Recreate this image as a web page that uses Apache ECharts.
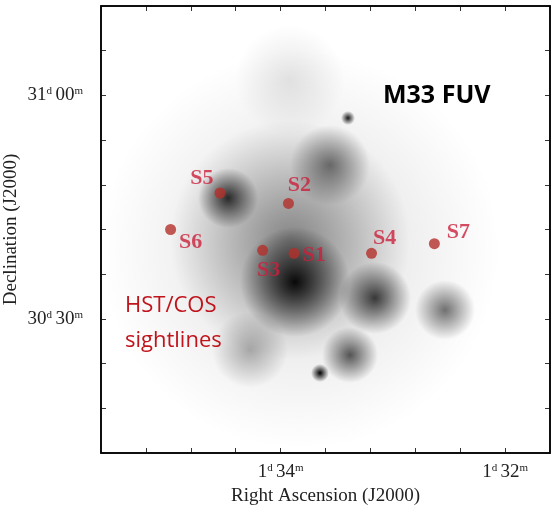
<!DOCTYPE html>
<html>
<head>
<meta charset="utf-8">
<script src="https://cdn.jsdelivr.net/npm/echarts@6/dist/echarts.min.js"></script>
<style>
  html, body { margin: 0; padding: 0; background: #fff; }
  #chart { width: 560px; height: 512px; }
</style>
</head>
<body>
<div id="chart"></div>
<script>
  // sightline names and positions: RA in minutes past 1h, Dec in arcmin past 30d
  const names = ['S1', 'S2', 'S3', 'S4', 'S5', 'S6', 'S7'];
  const raMin = [33.88, 33.93, 34.16, 33.19, 34.54, 34.98, 32.63];
  const decArcmin = [38.8, 45.5, 39.2, 38.8, 46.9, 42.0, 40.1];

  const raTicks = [32, 34];
  const decTicks = [30, 60];

  // label offsets from dot centre (style only)
  const labelOffset = {
    S1: [20, 2], S2: [11, -18], S3: [6, 20], S4: [13, -15],
    S5: [-18, -15], S6: [20, 13], S7: [24, -11]
  };

  const chart = echarts.init(document.getElementById('chart'));
  const serif = '"Liberation Serif", "DejaVu Serif", serif';

  const near = (v, list) => list.some(t => Math.abs(v - t) < 1e-6);
  const raLabel = v => {
    if (!near(v, raTicks)) return '';
    return '{n|1}{s|d} {n|' + Math.round(v) + '}{s|m}';
  };
  const decLabel = v => {
    if (!near(v, decTicks)) return '';
    const d = 30 + Math.floor(Math.round(v) / 60);
    const m = Math.round(v) % 60;
    return '{n|' + d + '}{s|d} {n|' + String(m).padStart(2, '0') + '}{s|m}';
  };
  const rich = {
    n: { fontFamily: serif, fontSize: 19, color: '#222' },
    s: { fontFamily: serif, fontSize: 11, color: '#222', verticalAlign: 'top', padding: [0, 0, 8, 0] }
  };

  // soft blobs imitating the FUV image (decoration only)
  const blob = (cx, cy, rx, ry, a) => ({
    type: 'ellipse',
    silent: true,
    z: 0,
    shape: { cx, cy, rx, ry },
    style: {
      fill: {
        type: 'radial', x: 0.5, y: 0.5, r: 0.5,
        colorStops: [
          { offset: 0, color: 'rgba(0,0,0,' + a + ')' },
          { offset: 1, color: 'rgba(0,0,0,0)' }
        ]
      }
    }
  });

  const option = {
    animation: false,
    backgroundColor: '#fff',
    grid: {
      left: 101, right: 10, top: 6, bottom: 59, outerBoundsMode: 'none',
      show: true, borderColor: '#000', borderWidth: 1.5, z: 3
    },
    graphic: [
      blob(300, 250, 200, 210, 0.14),
      blob(290, 240, 130, 120, 0.4),
      blob(295, 282, 62, 55, 0.95),
      blob(228, 198, 50, 30, 0.8),
      blob(330, 165, 55, 40, 0.5),
      blob(375, 298, 50, 36, 0.75),
      blob(445, 310, 30, 38, 0.55),
      blob(350, 355, 38, 28, 0.65),
      blob(250, 350, 55, 38, 0.3),
      blob(290, 80, 90, 55, 0.1),
      blob(320, 373, 9, 9, 1),
      blob(348, 118, 7, 7, 0.9)
    ],
    xAxis: [{
      type: 'value', inverse: true, min: 31.6, max: 35.6, interval: 0.4,
      name: 'Right Ascension (J2000)', nameLocation: 'middle', nameGap: 34,
      nameTextStyle: { fontFamily: serif, fontSize: 19, color: '#222' },
      axisLine: { show: true, lineStyle: { color: '#000', width: 1.5 } },
      axisTick: { inside: true, length: 5, lineStyle: { color: '#333' } },
      axisLabel: { formatter: raLabel, rich, margin: 10, showMinLabel: false, showMaxLabel: false },
      splitLine: { show: false }
    }, {
      type: 'value', inverse: true, min: 31.6, max: 35.6, interval: 0.4, position: 'top',
      axisLine: { show: true, lineStyle: { color: '#000', width: 1.5 } },
      axisTick: { inside: true, length: 5, lineStyle: { color: '#333' } },
      axisLabel: { show: false }, splitLine: { show: false }
    }],
    yAxis: [{
      type: 'value', min: 12, max: 72, interval: 6,
      name: 'Declination (J2000)', nameLocation: 'middle', nameGap: 80, nameMoveOverlap: false,
      nameTextStyle: { fontFamily: serif, fontSize: 19, color: '#222' },
      axisLine: { show: true, lineStyle: { color: '#000', width: 1.5 } },
      axisTick: { inside: true, length: 5, lineStyle: { color: '#333' } },
      axisLabel: { formatter: decLabel, rich, margin: 18 },
      splitLine: { show: false }
    }, {
      type: 'value', min: 12, max: 72, interval: 6, position: 'right',
      axisLine: { show: true, lineStyle: { color: '#000', width: 1.5 } },
      axisTick: { inside: true, length: 5, lineStyle: { color: '#333' } },
      axisLabel: { show: false }, splitLine: { show: false }
    }],
    series: [{
      type: 'scatter',
      z: 5,
      symbolSize: 11,
      itemStyle: { color: '#b3302a' },
      data: names.map((n, i) => ({
        name: n,
        value: [raMin[i], decArcmin[i]],
        label: { offset: labelOffset[n] }
      })),
      label: {
        show: true, position: 'inside', formatter: '{b}',
        fontFamily: serif, fontSize: 22, fontWeight: 'bold', color: '#cc1f3b'
      }
    }],
    title: [{
      text: 'M33 FUV', left: 378, top: 78,
      textStyle: { fontFamily: '"Open Sans", sans-serif', fontWeight: 'bold', fontSize: 25, color: '#000' }
    }, {
      text: 'HST/COS\nsightlines', left: 120, top: 283,
      textStyle: { fontFamily: '"Open Sans", sans-serif', fontWeight: 'normal', fontSize: 22, lineHeight: 35, color: '#c0141c' }
    }]
  };

  chart.setOption(option);
</script>
</body>
</html>
